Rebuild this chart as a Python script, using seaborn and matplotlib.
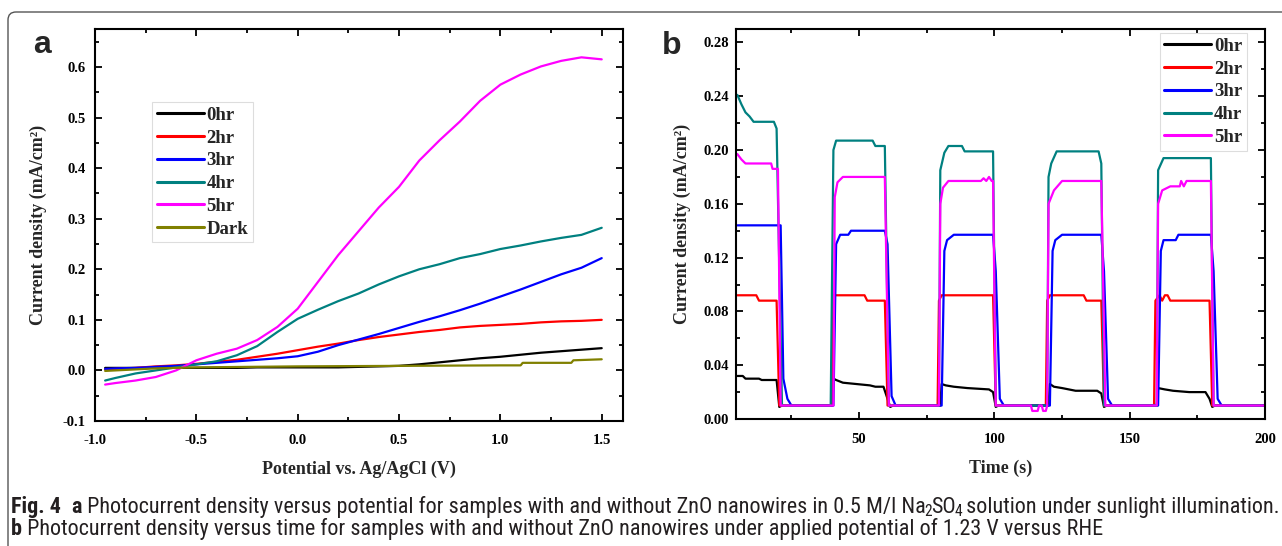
import matplotlib
matplotlib.use("Agg")
import matplotlib.pyplot as plt
import matplotlib.patches as mpatches
import matplotlib.transforms as mtransforms
from matplotlib import font_manager
from matplotlib.ticker import MultipleLocator, FormatStrFormatter
import seaborn as sns

# ---- panel a: current density vs potential ----
potential = [-0.95, -0.9, -0.8, -0.7, -0.6, -0.5, -0.4, -0.3, -0.2, -0.1, 0.0, 0.1, 0.2,
             0.3, 0.4, 0.5, 0.6, 0.7, 0.8, 0.9, 1.0, 1.1, 1.2, 1.3, 1.4, 1.5]
iv_0hr = [0.005, 0.005, 0.005, 0.005, 0.005, 0.005, 0.005, 0.005, 0.006, 0.006, 0.006, 0.006, 0.006,
          0.007, 0.008, 0.009, 0.012, 0.016, 0.020, 0.024, 0.027, 0.031, 0.035, 0.038, 0.041, 0.044]
iv_2hr = [0.002, 0.003, 0.005, 0.008, 0.010, 0.013, 0.017, 0.021, 0.027, 0.033, 0.040, 0.047, 0.053,
          0.060, 0.066, 0.071, 0.076, 0.080, 0.085, 0.088, 0.090, 0.092, 0.095, 0.097, 0.098, 0.100]
iv_3hr = [0.003, 0.004, 0.005, 0.007, 0.009, 0.012, 0.015, 0.018, 0.021, 0.024, 0.028, 0.037, 0.050,
          0.061, 0.072, 0.084, 0.096, 0.107, 0.119, 0.132, 0.146, 0.160, 0.175, 0.190, 0.203, 0.222]
iv_4hr = [-0.020, -0.015, -0.006, 0.000, 0.006, 0.012, 0.018, 0.030, 0.048, 0.076, 0.102, 0.120, 0.137,
          0.152, 0.170, 0.186, 0.200, 0.210, 0.222, 0.230, 0.240, 0.247, 0.255, 0.262, 0.268, 0.282]
iv_5hr = [-0.028, -0.025, -0.020, -0.013, 0.000, 0.020, 0.033, 0.043, 0.060, 0.086, 0.122, 0.175, 0.228,
          0.275, 0.322, 0.363, 0.415, 0.455, 0.492, 0.533, 0.565, 0.585, 0.601, 0.612, 0.619, 0.615]
potential_dark = [-0.95, -0.8, -0.7, -0.5, 0.0, 0.5, 1.0, 1.1, 1.11, 1.35, 1.36, 1.5]
iv_dark = [-0.001, 0.002, 0.004, 0.006, 0.008, 0.009, 0.010, 0.010, 0.015, 0.015, 0.020, 0.022]

# ---- panel b: current density vs time (chopped light) ----
t_0hr = [5, 7, 8, 13, 14, 19.5, 20.5, 21.5, 40, 40.5, 41.5, 44, 49, 54, 56, 59, 60.5, 61.5, 62.5,
         80, 80.5, 82, 85, 90, 98, 99.5, 100.5, 101.5, 120, 120.5, 122, 125, 130, 138, 139.5, 140.5,
         141.5, 160, 160.5, 163, 166, 172, 178, 179.5, 180.5, 181.5, 200]
j_0hr = [0.032, 0.032, 0.030, 0.030, 0.029, 0.029, 0.009, 0.010, 0.010, 0.030, 0.029, 0.027, 0.026,
         0.025, 0.024, 0.024, 0.015, 0.009, 0.010, 0.010, 0.026, 0.025, 0.024, 0.023, 0.022, 0.020,
         0.009, 0.010, 0.010, 0.026, 0.024, 0.023, 0.021, 0.021, 0.019, 0.009, 0.010, 0.010, 0.023,
         0.022, 0.021, 0.020, 0.020, 0.015, 0.009, 0.010, 0.010]
t_2hr = [5, 12, 13, 19.5, 20.5, 40, 40.5, 52, 53, 59.5, 60.5, 79, 79.5, 80.5, 99.5, 100.5, 119, 119.5,
         120.5, 133, 134, 139.5, 140.5, 159, 159.5, 161, 162, 163, 164, 165, 166, 179.5, 180.5, 200]
j_2hr = [0.092, 0.092, 0.088, 0.088, 0.010, 0.010, 0.092, 0.092, 0.088, 0.088, 0.010, 0.010, 0.088,
         0.092, 0.092, 0.010, 0.010, 0.088, 0.092, 0.092, 0.088, 0.088, 0.010, 0.010, 0.088, 0.092,
         0.088, 0.092, 0.092, 0.088, 0.088, 0.088, 0.010, 0.010]
t_3hr = [5, 21, 22, 23.5, 25, 40.5, 41.5, 43, 46, 47, 59.5, 60.5, 62, 63.5, 80.5, 81.5, 82.5, 85, 99.5,
         100.5, 102, 103.5, 120.5, 121.5, 122.5, 125, 139.5, 140.5, 142, 143.5, 160.5, 161.5, 162.5,
         167, 168, 180, 181, 182.5, 184, 200]
j_3hr = [0.144, 0.144, 0.030, 0.015, 0.010, 0.010, 0.130, 0.137, 0.137, 0.140, 0.140, 0.130, 0.017,
         0.010, 0.010, 0.125, 0.133, 0.137, 0.137, 0.110, 0.015, 0.010, 0.010, 0.125, 0.133, 0.137,
         0.137, 0.110, 0.015, 0.010, 0.010, 0.125, 0.133, 0.133, 0.137, 0.137, 0.110, 0.015, 0.010, 0.010]
t_4hr = [5, 6.5, 8, 9.5, 11, 18.5, 19.5, 21.5, 39.5, 40.5, 41.5, 55, 56, 59.5, 61, 79.5, 80, 81.5, 83,
         88, 89, 99.5, 100.5, 119.5, 120, 121, 123, 138.5, 139.5, 140.5, 160, 160.5, 162.5, 180, 181, 200]
j_4hr = [0.241, 0.234, 0.228, 0.225, 0.221, 0.221, 0.216, 0.010, 0.010, 0.200, 0.207, 0.207, 0.203,
         0.203, 0.010, 0.010, 0.185, 0.198, 0.203, 0.203, 0.199, 0.199, 0.010, 0.010, 0.180, 0.190,
         0.199, 0.199, 0.190, 0.010, 0.010, 0.185, 0.194, 0.194, 0.010, 0.010]
t_5hr = [5, 6.5, 8, 17.5, 18, 20, 21, 40.5, 41, 42, 44, 59.5, 61, 79.5, 80, 81, 83, 95, 96, 97, 98, 99,
         99.5, 100.5, 113.5, 114, 116, 116.5, 117.5, 118, 119, 119.5, 120, 122, 125, 139.5, 141, 160,
         160.5, 162, 165, 168.5, 169, 170, 171, 180, 181, 200]
j_5hr = [0.197, 0.193, 0.190, 0.190, 0.186, 0.186, 0.010, 0.010, 0.165, 0.176, 0.180, 0.180, 0.010,
         0.010, 0.160, 0.172, 0.177, 0.177, 0.179, 0.177, 0.180, 0.177, 0.177, 0.010, 0.010, 0.006,
         0.006, 0.010, 0.010, 0.006, 0.006, 0.010, 0.160, 0.170, 0.177, 0.177, 0.010, 0.010, 0.160,
         0.170, 0.173, 0.173, 0.177, 0.173, 0.177, 0.177, 0.010, 0.010]

labels_a = ['0hr', '2hr', '3hr', '4hr', '5hr', 'Dark']
labels_b = ['0hr', '2hr', '3hr', '4hr', '5hr']
colors = ['#000000', '#ff0000', '#0000ff', '#008080', '#ff00ff', '#808000']

W, H = 1282, 546
sns.set_style("ticks")
plt.rcParams['font.family'] = ['Liberation Serif', 'DejaVu Serif']
plt.rcParams['axes.unicode_minus'] = False
plt.rcParams['font.weight'] = 'bold'

fig = plt.figure(figsize=(W / 100, H / 100), dpi=100)
ax_a = fig.add_axes([95 / W, 1 - 421 / H, 528 / W, 392 / H])
ax_b = fig.add_axes([736 / W, 1 - 419 / H, 529 / W, 390 / H])

series_a = [(potential, iv_0hr), (potential, iv_2hr), (potential, iv_3hr),
            (potential, iv_4hr), (potential, iv_5hr), (potential_dark, iv_dark)]
for (xs, ys), lab, col in zip(series_a, labels_a, colors):
    sns.lineplot(x=xs, y=ys, ax=ax_a, color=col, label=lab, sort=False,
                 estimator=None, linewidth=1.6)

series_b = [(t_0hr, j_0hr), (t_2hr, j_2hr), (t_3hr, j_3hr), (t_4hr, j_4hr), (t_5hr, j_5hr)]
for (xs, ys), lab, col in zip(series_b, labels_b, colors):
    sns.lineplot(x=xs, y=ys, ax=ax_b, color=col, label=lab, sort=False,
                 estimator=None, linewidth=1.6)


def style_axes(ax):
    for sp in ax.spines.values():
        sp.set_visible(True)
        sp.set_linewidth(1.5)
        sp.set_color('black')
    ax.tick_params(which='both', direction='in', top=True, right=True, width=1.3,
                   labelsize=10.5, colors='black')
    ax.tick_params(which='major', length=5)
    ax.tick_params(which='minor', length=3)
    for lab in ax.get_xticklabels() + ax.get_yticklabels():
        lab.set_fontweight('bold')


ax_a.set_xlim(-1.0, 1.605)
ax_a.set_ylim(-0.1, 0.675)
ax_a.xaxis.set_major_locator(MultipleLocator(0.5))
ax_a.xaxis.set_minor_locator(MultipleLocator(0.25))
ax_a.yaxis.set_major_locator(MultipleLocator(0.1))
ax_a.yaxis.set_minor_locator(MultipleLocator(0.05))
ax_a.xaxis.set_major_formatter(FormatStrFormatter('%.1f'))
ax_a.yaxis.set_major_formatter(FormatStrFormatter('%.1f'))
style_axes(ax_a)
ax_a.tick_params(axis='x', pad=9)
ax_a.tick_params(axis='y', pad=7)
ax_a.set_xlabel('Potential vs. Ag/AgCl (V)', fontsize=13, fontweight='bold', labelpad=10)
ax_a.set_ylabel('Current density (mA/cm²)', fontsize=13, fontweight='bold', labelpad=11)

ax_b.set_xlim(4.5, 200)
ax_b.set_ylim(0, 0.29)
ax_b.xaxis.set_major_locator(MultipleLocator(50))
ax_b.xaxis.set_minor_locator(MultipleLocator(25))
ax_b.yaxis.set_major_locator(MultipleLocator(0.04))
ax_b.yaxis.set_minor_locator(MultipleLocator(0.02))
ax_b.yaxis.set_major_formatter(FormatStrFormatter('%.2f'))
style_axes(ax_b)
ax_b.tick_params(axis='x', pad=10)
ax_b.tick_params(axis='y', pad=5)
ax_b.set_xlabel('Time (s)', fontsize=13, fontweight='bold', labelpad=10)
ax_b.set_ylabel('Current density (mA/cm²)', fontsize=13, fontweight='bold', labelpad=9)

leg_kw = dict(handlelength=2.5, handletextpad=0.15, labelspacing=0.3,
              borderpad=0.25, borderaxespad=0, fancybox=False, framealpha=1,
              edgecolor='#dddddd', prop={'weight': 'bold', 'size': 13.5})
leg_a = ax_a.legend(loc='upper left', bbox_to_anchor=((152 - 95) / 528, 1 - (102 - 29) / 392), **leg_kw)
leg_b = ax_b.legend(loc='upper right', bbox_to_anchor=((1247 - 736) / 529, 1 - (33 - 29) / 390), **leg_kw)
for leg in (leg_a, leg_b):
    leg.get_frame().set_linewidth(0.8)
    for ln in leg.get_lines():
        ln.set_linewidth(2.2)

# panel letters
fig.text(33 / W, 1 - 53 / H, 'a', fontsize=23, fontweight='bold', family='Liberation Sans', va='baseline')
fig.text(662 / W, 1 - 54 / H, 'b', fontsize=23, fontweight='bold', family='Liberation Sans', va='baseline')

# rounded frame around the figure
frame = mpatches.FancyBboxPatch((8, -40), 1400, H - 12 + 40,
                                boxstyle='round,pad=0,rounding_size=8',
                                transform=mtransforms.IdentityTransform(),
                                fill=False, edgecolor='#555555', linewidth=1.0)
fig.add_artist(frame)

# caption: prefer a narrow sans face when one is installed
installed = {f.name for f in font_manager.fontManager.ttflist}
cap_family = [f for f in ['Liberation Sans Narrow', 'Roboto Condensed', 'Noto Sans Condensed',
                          'DejaVu Sans Condensed', 'Open Sans Condensed', 'Roboto', 'Liberation Sans']
              if f in installed] + ['DejaVu Sans']
cap_color = '#231f20'
line1 = [('Fig. 4', 'bold', 0), ('  ', 'normal', 0), ('a', 'bold', 0),
         (' Photocurrent density versus potential for samples with and without ZnO nanowires in 0.5 M/l Na', 'normal', 0),
         ('2', 'normal', 1), ('SO', 'normal', 0), ('4', 'normal', 1),
         (' solution under sunlight illumination.', 'normal', 0)]
line2 = [('b', 'bold', 0),
         (' Photocurrent density versus time for samples with and without ZnO nanowires under applied potential of 1.23 V versus RHE', 'normal', 0)]

renderer = fig.canvas.get_renderer()


def draw_line(pieces, x0, y0, size):
    x = x0
    arts = []
    for txt, weight, sub in pieces:
        fs = size * (0.7 if sub else 1.0)
        yy = y0 + (0.15 * size * 100 / 72 if sub else 0)
        if sub:
            x -= 1
        t = fig.text(x / W, 1 - yy / H, txt, fontsize=fs, fontweight=weight,
                     family=cap_family, color=cap_color, va='baseline', ha='left')
        x += t.get_window_extent(renderer).width - (1 if sub else 0)
        arts.append(t)
    return arts, x - x0


arts, width = draw_line(line1, 11, 513, 10)
for a in arts:
    a.remove()
size = 10 * 1261 / width
draw_line(line1, 11, 513, size)
draw_line(line2, 11, 535, size)

fig.savefig('out.png', dpi=100)
